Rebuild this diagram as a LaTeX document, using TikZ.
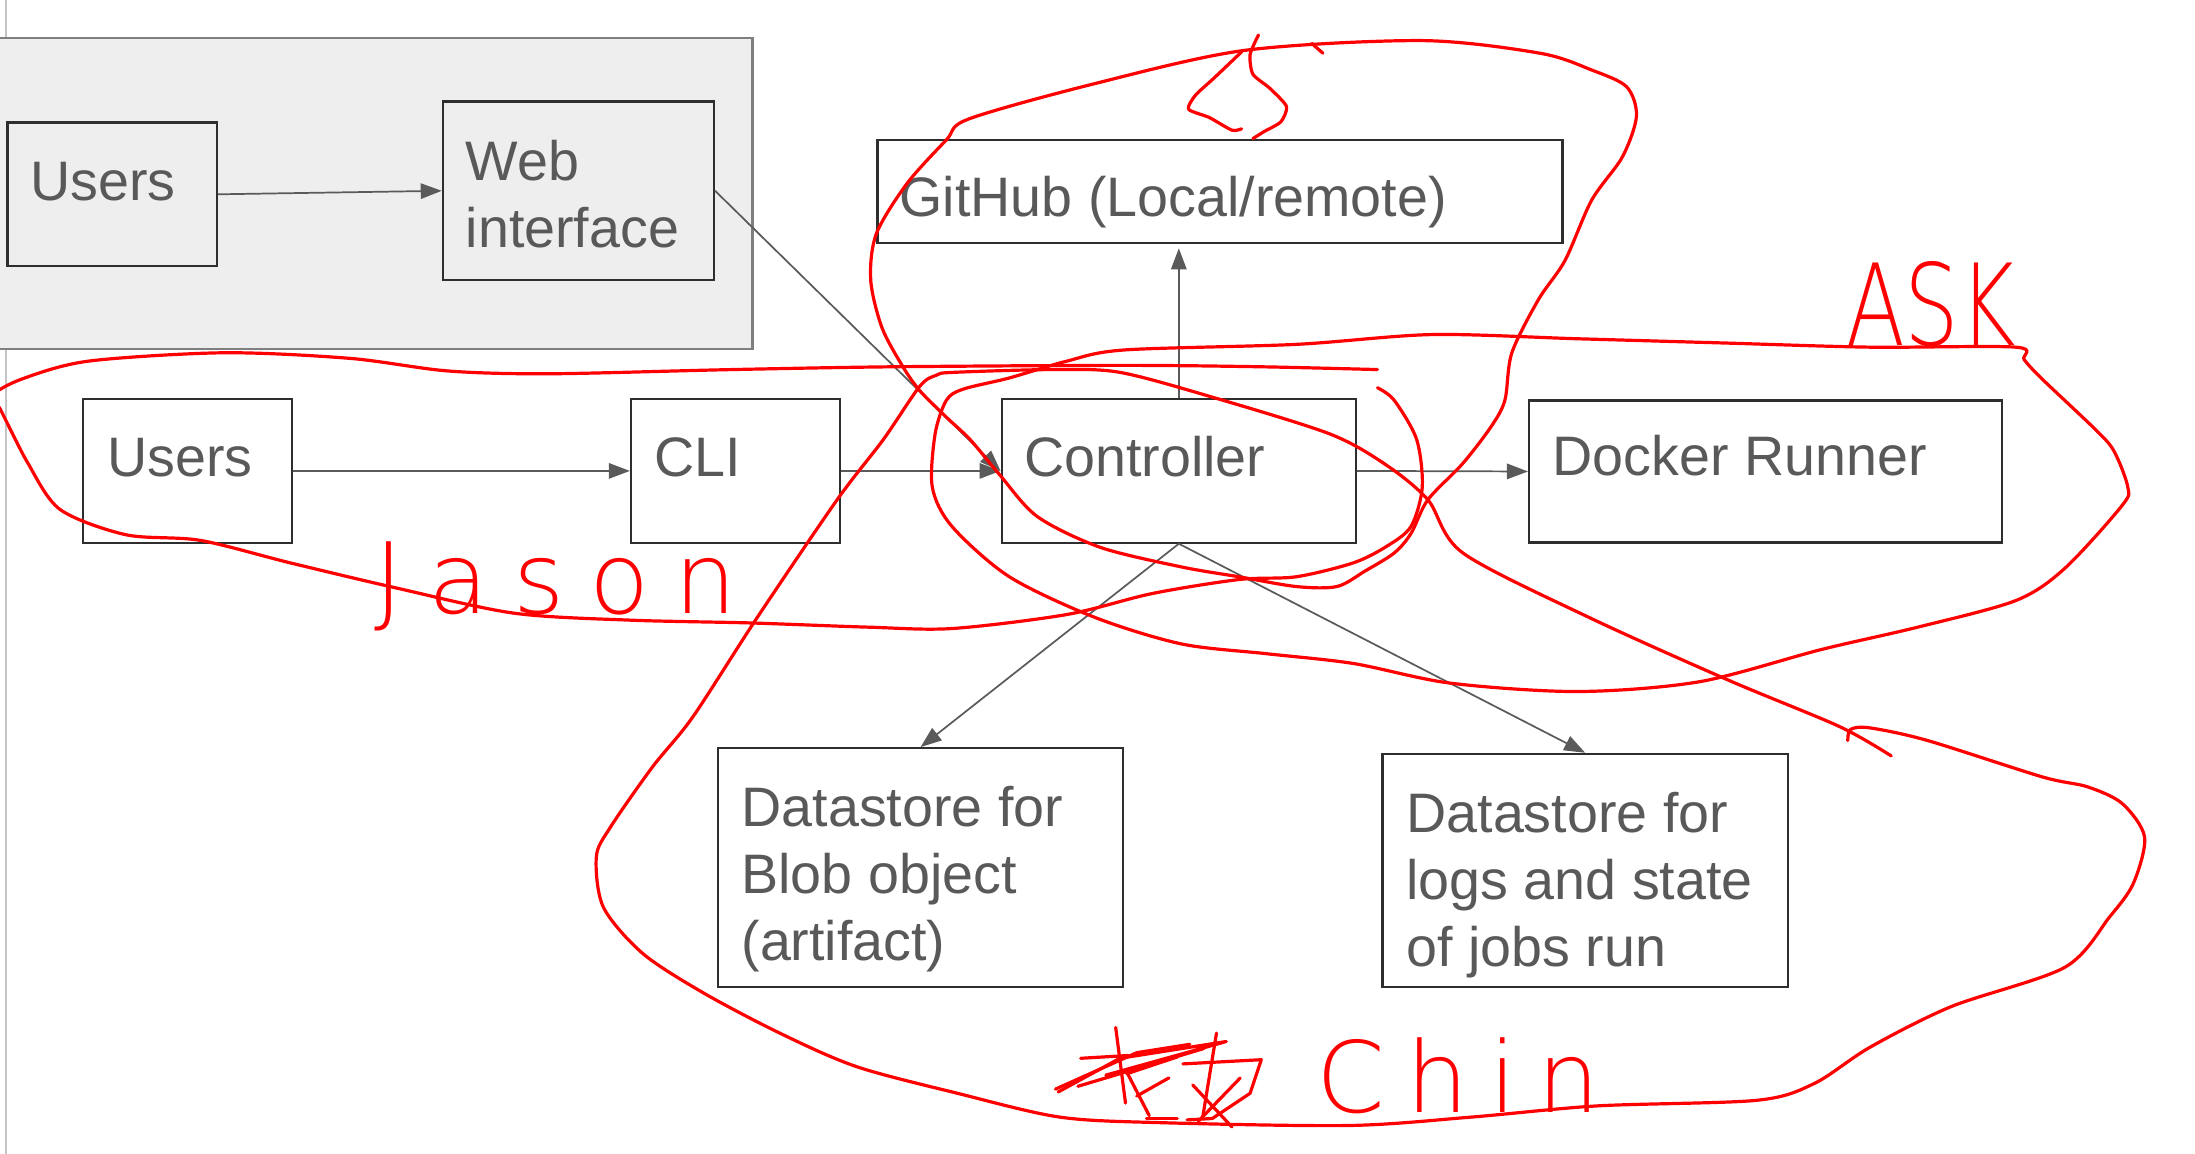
\documentclass[tikz,border=0pt]{standalone}
\usepackage{fontspec}
\setmainfont{Liberation Sans}
\newfontfamily\handfont{DejaVu Sans ExtraLight}
\usetikzlibrary{arrows.meta, calc}
\definecolor{boxline}{HTML}{2E2E2E}
\definecolor{txtgray}{HTML}{595959}
\definecolor{arrgray}{HTML}{5A5A5A}
\definecolor{panel}{HTML}{EEEEEE}
\definecolor{panelline}{HTML}{7F7F7F}
\definecolor{edgegray}{HTML}{C4C4C4}
\definecolor{inkred}{HTML}{FF0000}

\tikzset{
  box/.style={draw=boxline, line width=0.45pt, inner sep=0pt},
  lbl/.style={anchor=base west, inner sep=0pt, text=txtgray, align=left,
              font=\fontsize{11.3}{13.6}\selectfont},
  link/.style={->, draw=arrgray, line width=0.35pt},
  ink/.style={draw=inkred, line width=0.65pt, line cap=round, line join=round},
  hand/.style={anchor=base west, inner sep=0pt, text=inkred},
}

\begin{document}
\begin{tikzpicture}[x=0.01cm, y=-0.01cm, >={Triangle[length=0.15cm, width=0.11cm]}]
\useasboundingbox (0,0) rectangle (1568,824);

% Page edge and web panel
\draw[edgegray, line width=0.5pt] (4.4,-5) -- (4.4,830);
\filldraw[fill=panel, draw=panelline, line width=0.5pt] (-20,27) rectangle (537.5,249.5);

% Boxes
\node[box, minimum width=1.495cm, minimum height=1.024cm] (usrtop) at (80.2,138.8) {};
\node[box, minimum width=1.936cm, minimum height=1.274cm] (web) at (413.2,136.3) {};
\node[box, minimum width=4.89cm, minimum height=0.735cm] (gh) at (871.5,136.8) {};
\node[box, minimum width=1.494cm, minimum height=1.024cm] (usr) at (134,336.4) {};
\node[box, minimum width=1.492cm, minimum height=1.024cm] (cli) at (525.4,336.4) {};
\node[box, minimum width=2.53cm, minimum height=1.024cm] (ctrl) at (842.1,336.4) {};
\node[box, minimum width=3.378cm, minimum height=1.013cm] (dock) at (1261.3,336.8) {};
\node[box, minimum width=2.89cm, minimum height=1.707cm] (blob) at (657.6,619.9) {};
\node[box, minimum width=2.894cm, minimum height=1.666cm] (logs) at (1132.4,621.9) {};

% Box texts (base = last line)
\node[lbl] (usrtop-t) at (21,143) {Users};
\node[lbl] (web-t) at (332,176.5) {Web\\interface};
\node[lbl] (gh-t) at (642,155) {GitHub (Local/remote)};
\node[lbl] (usr-t) at (76,340.5) {Users};
\node[lbl] (cli-t) at (466.5,340.5) {CLI};
\node[lbl] (ctrl-t) at (731,340.5) {Controller};
\node[lbl] (dock-t) at (1108.5,340) {Docker Runner};
\node[lbl] (blob-t) at (529,686) {Datastore for\\Blob object\\(artifact)};
\node[lbl] (logs-t) at (1004,690.5) {Datastore for\\logs and state\\of jobs run};

% Connectors
\draw[link] (usrtop.east) -- (web.west);
\draw[link] (usr.east) -- (cli.west);
\draw[link] (cli.east) -- (ctrl.west);
\draw[link] (web.east) -- (ctrl.west);
\draw[link] (ctrl.east) -- (dock.west);
\draw[link, shorten >=0.03cm] (ctrl.north) -- (ctrl.north |- gh.south);
\draw[link] (ctrl.south) -- (blob.north);
\draw[link] (ctrl.south) -- (logs.north);

% Red ink: Jason loop
\draw[ink] plot[smooth, tension=0.5] coordinates {
  (984,264) (900,262) (803,261) (639,262) (523,264) (393,267) (320,265)
  (250,256) (160,252) (63,258) (15,271) (-6,283) (0,292) (20,331) (43,364)
  (90,382) (143,386) (207,402) (283,420) (367,438) (450,443) (536,445)
  (620,448) (680,449) (762,439) (823,424) (885,414) (926,412) (967,402)
  (991,390) (1008,376) (1016,348) (1012,314) (996,286) (984,277)};

% Red ink: GitHub loop
\draw[ink] plot[smooth cycle, tension=0.5] coordinates {
  (1075,286) (1065,305) (1045,331) (1020,357) (1008,381) (996,395)
  (975,408) (955,419) (926,419) (885,412) (844,405) (786,391) (741,369)
  (714,339) (693,314) (676,298) (657,279) (645,262) (630,234) (622,200)
  (626,167) (648,131) (676,100) (692,85) (781,60) (889,36) (1016,29)
  (1100,38) (1137,50) (1162,62) (1169,83) (1159,112) (1137,143) (1118,186)
  (1099,214) (1080,252)};
\draw[ink] (937,31) -- (945,38);
\draw[ink] plot[smooth, tension=0.4] coordinates {
  (899,25) (893,39) (895,53) (907,63) (919,76) (915,87) (903,94) (895,99)};
\draw[ink] plot[smooth, tension=0.4] coordinates {
  (887,37) (867,56) (854,68) (849,78) (864,84) (880,93) (887,92)};

% Red ink: ASK loop
\draw[ink] plot[smooth cycle, tension=0.5] coordinates {
  (676,286) (688,278) (721,270) (762,258) (803,250) (926,246) (1023,239)
  (1127,242) (1231,245) (1336,248) (1440,248) (1446,257) (1458,270)
  (1496,306) (1510,322) (1520,348) (1516,361) (1475,406) (1440,429)
  (1370,448) (1301,464) (1214,487) (1127,494) (1036,488) (967,474)
  (905,467) (844,460) (782,441) (721,412) (680,376) (666,348) (668,310)};

% Red ink: Chin loop
\draw[ink] plot[smooth, tension=0.5] coordinates {
  (1320,529) (1322,521) (1336,520) (1377,529) (1459,555) (1491,562)
  (1516,574) (1532,598) (1524,631) (1507,655) (1475,691) (1394,719)
  (1336,748) (1296,774) (1255,786) (1141,790) (1051,798) (964,804)
  (830,802) (757,798) (684,781) (612,762) (557,738) (502,709) (459,681)
  (431,648) (426,612) (436,591) (466,548) (495,512) (541,441) (598,357)
  (631,314) (657,276) (669,268) (681,266) (752,264) (800,266) (867,284)
  (950,310) (990,332) (1020,357) (1045,395) (1135,441) (1235,486)
  (1314,519) (1351,540)};

% Red ink: scribbled mark
\draw[ink] (797,734) -- (804,788);
\draw[ink] (772,756) -- (806,754);
\draw[ink] (756,780) -- (800,756) -- (876,744) -- (790,768) -- (860,749) -- (770,776);
\draw[ink] (754,778) -- (812,752) -- (850,746);
\draw[ink] (869,738) -- (859,799);
\draw[ink] (845,760) -- (901,757) -- (893,781) -- (866,799) -- (848,800);
\draw[ink] (852,775) -- (880,805);
\draw[ink] (886,770) -- (856,801);
\draw[ink] (805,766) -- (821,797);
\draw[ink] (819,799) -- (841,799);
\draw[ink] (805,767) -- (841,755);
\draw[ink] (812,783) -- (835,770);

% Handwritten names
\node[hand, font=\handfont\fontsize{20}{20}\selectfont\addfontfeature{LetterSpace=25}] (jason) at (267,438) {Jason};
\node[hand, font=\handfont\fontsize{23}{23}\selectfont\addfontfeature{FakeStretch=0.76}] (ask) at (1318,247) {ASK};
\node[hand, font=\handfont\fontsize{20}{20}\selectfont\addfontfeature{LetterSpace=21}] (chin) at (940,795) {Chin};

\end{tikzpicture}
\end{document}
